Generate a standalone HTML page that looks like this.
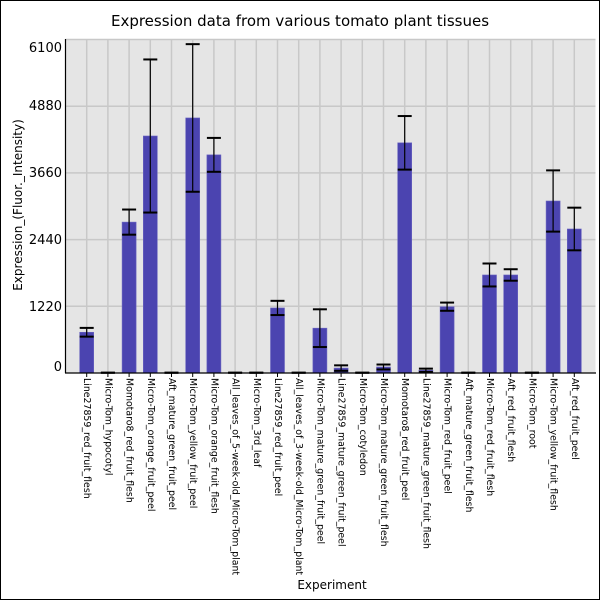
<!DOCTYPE html>
<html><head><meta charset="utf-8"><style>
html,body{margin:0;padding:0;background:#fff}
svg{display:block;font-family:"DejaVu Sans","Liberation Sans",sans-serif}
</style></head><body>
<svg width="600" height="600" viewBox="0 0 600 600" xmlns="http://www.w3.org/2000/svg">
<rect x="0.5" y="0.5" width="599" height="599" fill="#fff" stroke="#000"/>
<text x="300" y="26" text-anchor="middle" font-size="15">Expression data from various tomato plant tissues</text>
<rect x="65.5" y="39.5" width="530" height="333.5" fill="#e5e5e5"/>
<g id="g" stroke="#c8c8c8" stroke-width="1.5"></g>
<g id="b"></g>
<line x1="65.5" y1="39" x2="65.5" y2="373" stroke="#000" stroke-width="1.2"/>
<line x1="65" y1="373" x2="596" y2="373" stroke="#000" stroke-width="1.2"/>
<g font-size="13" text-anchor="end">
<text x="62" y="52">6100</text>
<text x="62" y="110">4880</text>
<text x="62" y="177">3660</text>
<text x="62" y="311">1220</text>
<text x="62" y="371">0</text>
<text x="62" y="244">2440</text>
</g>
<g id="xl" font-size="9.4"></g>
<text x="332" y="589" text-anchor="middle" font-size="12">Experiment</text>
<text transform="translate(22,205) rotate(-90)" text-anchor="middle" font-size="12">Expression_(Fluor._Intensity)</text>
</svg>
<script>
var names=["Line27859_red_fruit_flesh","Micro-Tom_hypocotyl","Momotaro8_red_fruit_flesh","Micro-Tom_orange_fruit_peel","Aft_mature_green_fruit_peel","Micro-Tom_yellow_fruit_peel","Micro-Tom_orange_fruit_flesh","All_leaves_of_5-week-old_Micro-Tom_plant","Micro-Tom_3rd_leaf","Line27859_red_fruit_peel","All_leaves_of_3-week-old_Micro-Tom_plant","Micro-Tom_mature_green_fruit_peel","Line27859_mature_green_fruit_peel","Micro-Tom_cotyledon","Micro-Tom_mature_green_fruit_flesh","Momotaro8_red_fruit_peel","Line27859_mature_green_fruit_flesh","Micro-Tom_red_fruit_peel","Aft_mature_green_fruit_flesh","Micro-Tom_red_fruit_flesh","Aft_red_fruit_flesh","Micro-Tom_root","Micro-Tom_yellow_fruit_flesh","Aft_red_fruit_peel"];
var vals=[745,5,2760,4335,5,4665,3990,5,5,1190,5,820,90,5,110,4210,50,1213,5,1793,1793,5,3146,2634];
var errs=[80,0,230,1400,0,1350,310,0,0,130,0,345,50,0,45,490,30,75,0,210,105,0,560,390];
var NS="http://www.w3.org/2000/svg";
function el(p,t,a,txt){var e=document.createElementNS(NS,t);for(var k in a)e.setAttribute(k,a[k]);if(txt)e.textContent=txt;p.appendChild(e);return e;}
var g=document.getElementById("g"),b=document.getElementById("b"),xl=document.getElementById("xl");
var sc=333.5/6100;function Y(v){return 373-v*sc;}
[1220,2440,3660,4880,6100].forEach(function(v){el(g,"line",{x1:65.5,x2:595.5,y1:Y(v),y2:Y(v)});});
for(var i=0;i<24;i++){var cx=65.5+21.2*(i+1);
el(g,"line",{x1:cx,x2:cx,y1:39.5,y2:373});
var v=vals[i],e=errs[i];
el(b,"rect",{x:cx-7,y:Y(v),width:14,height:v*sc,fill:"#4b44b0",stroke:"#6a64c0","stroke-width":0.6});
el(b,"line",{x1:cx,x2:cx,y1:Y(v+e),y2:Y(Math.max(0,v-e)),stroke:"#000","stroke-width":1.2});
el(b,"line",{x1:cx-7,x2:cx+7,y1:Y(v+e),y2:Y(v+e),stroke:"#000","stroke-width":2});
el(b,"line",{x1:cx-7,x2:cx+7,y1:Y(Math.max(0,v-e)),y2:Y(Math.max(0,v-e)),stroke:"#000","stroke-width":2});
el(b,"line",{x1:cx,x2:cx,y1:373,y2:377,stroke:"#000","stroke-width":1});
el(xl,"text",{x:cx,y:378,transform:"rotate(90,"+cx+",378)","dominant-baseline":"middle"},names[i]);
}
</script>
</body></html>
